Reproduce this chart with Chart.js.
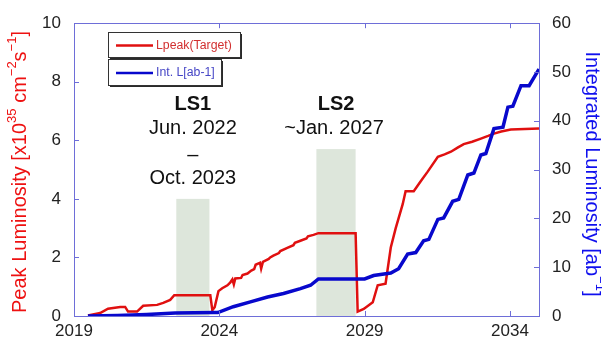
<!DOCTYPE html>
<html>
<head>
<meta charset="utf-8">
<script src="https://cdn.jsdelivr.net/npm/chart.js@4.4.1/dist/chart.umd.min.js"></script>
<style>
  html, body { margin: 0; padding: 0; background: #ffffff; }
  #wrap { width: 602px; height: 342px; position: relative; }
</style>
</head>
<body>
<div id="wrap"><canvas id="lumi" width="602" height="342"></canvas></div>
<script>
// Peak luminosity (left axis, x10^35 cm^-2 s^-1)
const peakYears  = [2019.48, 2019.9, 2020.17, 2020.59, 2020.76, 2020.86, 2021.17, 2021.38, 2021.86, 2022.07,
                    2022.31, 2022.45, 2023.69, 2023.76, 2023.84, 2023.97, 2024.1, 2024.28, 2024.38, 2024.45,
                    2024.5, 2024.55, 2024.75, 2024.8, 2024.97, 2025.1, 2025.2, 2025.25, 2025.4, 2025.44,
                    2025.5, 2025.7, 2025.75, 2025.86, 2026.05, 2026.1, 2026.34, 2026.55, 2026.6, 2026.79,
                    2027.0, 2027.05, 2027.24, 2027.41, 2028.69, 2028.76, 2028.97, 2029.28, 2029.45, 2029.72,
                    2029.9, 2030.07, 2030.31, 2030.41, 2030.69, 2030.93, 2031.17, 2031.52, 2031.75, 2031.97,
                    2032.2, 2032.41, 2032.7, 2033.0, 2033.25, 2033.45, 2033.7, 2034.03, 2035.0];
const peakValues = [0.02, 0.1, 0.25, 0.31, 0.31, 0.15, 0.15, 0.35, 0.38, 0.45,
                    0.55, 0.71, 0.71, 0.2, 0.3, 0.85, 0.95, 1.05, 1.15, 1.25,
                    1.08, 1.28, 1.3, 1.4, 1.45, 1.55, 1.6, 1.75, 1.82, 1.62,
                    1.85, 1.95, 2.0, 2.06, 2.15, 2.22, 2.33, 2.42, 2.5, 2.57,
                    2.65, 2.72, 2.77, 2.83, 2.83, 0.15, 0.24, 0.47, 1.05, 1.1,
                    2.34, 3.0, 3.82, 4.26, 4.26, 4.6, 4.93, 5.44, 5.52, 5.61,
                    5.75, 5.87, 5.95, 6.06, 6.15, 6.23, 6.3, 6.37, 6.4];

// Integrated luminosity (right axis, ab^-1)
const intYears  = [2019.48, 2020.5, 2021.5, 2022.48, 2023.8, 2023.95, 2024.48, 2025.07, 2025.66, 2026.21,
                   2026.79, 2027.14, 2027.41, 2029.0, 2029.31, 2029.9, 2030.17, 2030.48, 2030.76, 2031.03,
                   2031.21, 2031.52, 2031.72, 2032.03, 2032.24, 2032.55, 2032.76, 2033.0, 2033.17, 2033.45,
                   2033.76, 2033.93, 2034.1, 2034.38, 2034.66, 2035.0];
const intValues = [0, 0.1, 0.3, 0.6, 0.7, 0.7, 1.9, 2.9, 3.9, 4.6,
                   5.6, 6.3, 7.6, 7.6, 8.3, 8.8, 9.7, 12.7, 13.0, 15.4,
                   15.7, 19.8, 20.1, 23.5, 23.9, 28.9, 29.3, 33.0, 33.3, 38.4,
                   38.7, 42.8, 43.0, 47.2, 47.2, 50.6];

// Long shutdown periods (start year, end year, shaded height on the left axis)
const shutdownNames  = ['LS1', 'LS2'];
const shutdownStart  = [2022.52, 2027.34];
const shutdownEnd    = [2023.66, 2028.69];
const shutdownHeight = [4.0, 5.7];
const shutdownText   = [['Jun. 2022', '\u2013', 'Oct. 2023'], ['~Jan. 2027']];

const xTickYears = [2019, 2024, 2029, 2034];
const seriesNames = ['Lpeak(Target)', 'Int. L[ab-1]'];

const FONT = "'Liberation Sans', Arial, Helvetica, sans-serif";
const FRAME = '#6e6ed8';
const RED = '#e01010';
const BLUE = '#0808cc';

function rich(ctx, parts, size, color) {
  // draws a run of text with superscripts, centred on the current origin
  const supSize = Math.round(size * 0.65);
  let w = 0;
  parts.forEach(p => {
    ctx.font = (p.sup ? supSize : size) + 'px ' + FONT;
    p.w = ctx.measureText(p.t).width;
    w += p.w;
  });
  let x = -w / 2;
  ctx.fillStyle = color;
  ctx.textBaseline = 'middle';
  ctx.textAlign = 'left';
  parts.forEach(p => {
    ctx.font = (p.sup ? supSize : size) + 'px ' + FONT;
    ctx.fillText(p.t, x, p.sup ? -size * 0.38 : 0);
    x += p.w;
  });
}

const decor = {
  id: 'decor',
  beforeDatasetsDraw(chart) {
    const { ctx, scales: { x, yL } } = chart;
    ctx.save();
    ctx.fillStyle = '#dde6db';
    shutdownStart.forEach((s, i) => {
      const x0 = x.getPixelForValue(s), x1 = x.getPixelForValue(shutdownEnd[i]);
      const yt = yL.getPixelForValue(shutdownHeight[i]), yb = yL.getPixelForValue(0);
      ctx.fillRect(x0, yt, x1 - x0, yb - yt);
    });
    ctx.restore();
  },
  afterDraw(chart) {
    const { ctx, chartArea: a, scales: { x, yL, yR } } = chart;
    ctx.save();

    // frame
    ctx.strokeStyle = FRAME;
    ctx.lineWidth = 1;
    ctx.strokeRect(Math.round(a.left) + 0.5, Math.round(a.top) + 0.5,
                   Math.round(a.right - a.left), Math.round(a.bottom - a.top));

    // inward tick marks
    ctx.beginPath();
    const T = 5;
    yL.ticks.forEach(t => {
      const py = Math.round(yL.getPixelForValue(t.value)) + 0.5;
      ctx.moveTo(a.left, py); ctx.lineTo(a.left + T, py);
    });
    yR.ticks.forEach(t => {
      const py = Math.round(yR.getPixelForValue(t.value)) + 0.5;
      ctx.moveTo(a.right, py); ctx.lineTo(a.right - T, py);
    });
    x.ticks.forEach(t => {
      const px = Math.round(x.getPixelForValue(t.value)) + 0.5;
      ctx.moveTo(px, a.bottom); ctx.lineTo(px, a.bottom - T);
      ctx.moveTo(px, a.top); ctx.lineTo(px, a.top + T);
    });
    ctx.stroke();

    // shutdown annotations
    ctx.fillStyle = '#111';
    ctx.textAlign = 'center';
    ctx.textBaseline = 'middle';
    shutdownNames.forEach((n, i) => {
      const cx = x.getPixelForValue((shutdownStart[i] + shutdownEnd[i]) / 2);
      ctx.font = 'bold 20px ' + FONT;
      ctx.fillText(n, cx, 104);
      ctx.font = '20px ' + FONT;
      const rowsY = [128, 155, 178];
      shutdownText[i].forEach((line, j) => ctx.fillText(line, cx - (i === 1 ? 2 : 0), rowsY[j]));
    });

    // legend boxes
    const boxes = [
      { x: 108, y: 32, w: 132, h: 25, color: RED, text: '#d23030' },
      { x: 108, y: 59, w: 113, h: 26, color: BLUE, text: '#4646c6' }
    ];
    boxes.forEach((b, i) => {
      ctx.fillStyle = '#2a2a2a';
      ctx.fillRect(b.x + 2, b.y + 2, b.w, b.h);
      ctx.fillStyle = '#ffffff';
      ctx.fillRect(b.x, b.y, b.w, b.h);
      ctx.strokeStyle = '#333';
      ctx.lineWidth = 1;
      ctx.strokeRect(b.x + 0.5, b.y + 0.5, b.w, b.h);
      const my = b.y + b.h / 2 + 1;
      ctx.strokeStyle = b.color;
      ctx.lineWidth = 2.5;
      ctx.beginPath(); ctx.moveTo(116, my); ctx.lineTo(153, my); ctx.stroke();
      ctx.fillStyle = b.text;
      ctx.font = '12.3px ' + FONT;
      ctx.textAlign = 'left';
      ctx.textBaseline = 'middle';
      ctx.fillText(seriesNames[i], 156, my);
    });

    // axis titles
    ctx.save();
    ctx.translate(20, 172);
    ctx.rotate(-Math.PI / 2);
    rich(ctx, [
      { t: 'Peak Luminosity [x10' }, { t: '35', sup: true }, { t: ' cm' }, { t: '\u22122', sup: true },
      { t: 's' }, { t: '\u22121', sup: true }, { t: ']' }
    ], 20, '#ee1111');
    ctx.restore();

    ctx.save();
    ctx.translate(592, 174);
    ctx.rotate(Math.PI / 2);
    rich(ctx, [{ t: 'Integrated Luminosity [ab' }, { t: '\u22121', sup: true }, { t: ']' }], 20, '#1010ee');
    ctx.restore();

    ctx.restore();
  }
};

const tickFont = { family: FONT, size: 17 };

new Chart(document.getElementById('lumi'), {
  type: 'line',
  data: {
    datasets: [
      {
        label: seriesNames[0],
        data: peakYears.map((yr, i) => ({ x: yr, y: peakValues[i] })),
        yAxisID: 'yL',
        borderColor: RED,
        borderWidth: 2.5,
        pointRadius: 0,
        tension: 0,
        fill: false,
        order: 2
      },
      {
        label: seriesNames[1],
        data: intYears.map((yr, i) => ({ x: yr, y: intValues[i] })),
        yAxisID: 'yR',
        borderColor: BLUE,
        borderWidth: 3.5,
        pointRadius: 0,
        tension: 0,
        fill: false,
        order: 1
      }
    ]
  },
  options: {
    responsive: false,
    animation: false,
    events: [],
    layout: { padding: { top: 20, left: 0, right: 0, bottom: 0 } },
    plugins: { legend: { display: false }, tooltip: { enabled: false } },
    scales: {
      x: {
        type: 'linear',
        min: 2019, max: 2035,
        afterBuildTicks: s => { s.ticks = xTickYears.map(v => ({ value: v })); },
        afterFit: s => { s.height = 26; },
        grid: { display: false, drawTicks: false },
        border: { display: false },
        ticks: { color: '#222', font: tickFont, padding: 5, maxRotation: 0, autoSkip: false,
                 callback: v => String(v) }
      },
      yL: {
        position: 'left',
        min: 0, max: 10,
        afterFit: s => { s.width = 74; },
        grid: { display: false, drawTicks: false },
        border: { display: false },
        ticks: { stepSize: 2, color: '#222', font: tickFont, padding: 13 }
      },
      yR: {
        position: 'right',
        min: 0, max: 60,
        afterFit: s => { s.width = 63; },
        grid: { display: false, drawTicks: false },
        border: { display: false },
        ticks: { stepSize: 10, color: '#222', font: tickFont, padding: 13 }
      }
    }
  },
  plugins: [decor]
});
</script>
</body>
</html>
